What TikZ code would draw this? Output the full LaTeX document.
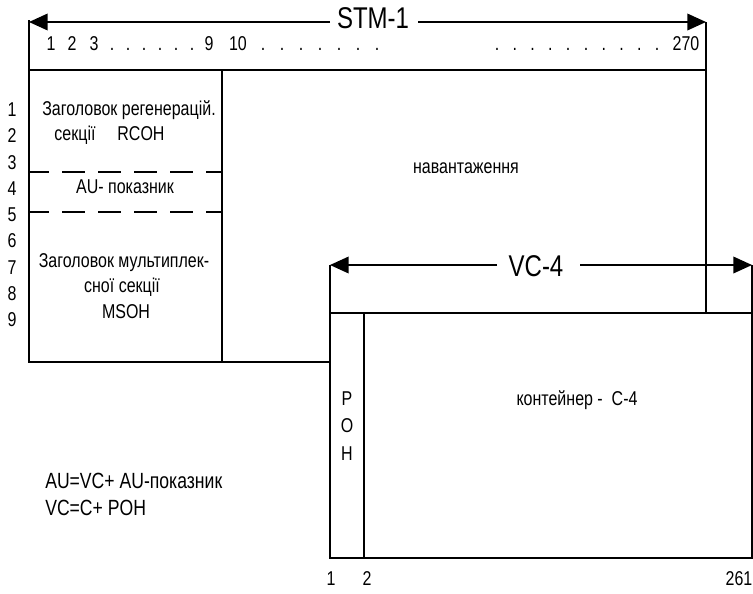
\documentclass[tikz,border=0pt]{standalone}
\usepackage{fontspec}
\setmainfont{Liberation Sans}[FakeStretch=0.8]
\usetikzlibrary{arrows.meta}
\begin{document}
\begin{tikzpicture}[x=0.75pt,y=-0.75pt,
  ln/.style={line width=1.1pt},
  tipr/.style={line width=1.1pt,-{Triangle[length=14pt,width=12.5pt]}},
  dsh/.style={line width=1.1pt,dash pattern=on 17pt off 10pt,dash phase=2pt},
  txt/.style={inner sep=0pt,anchor=base,font=\fontsize{15pt}{18pt}\selectfont},
  frm/.style={inner sep=0pt,anchor=base west,font=\fontsize{16.5pt}{19pt}\selectfont},
  big/.style={inner sep=0pt,anchor=base,font=\fontsize{22.5pt}{26pt}\selectfont}]
\useasboundingbox (0,0) rectangle (753,593);
% STM-1 frame
\draw[ln] (29,20) -- (29,362) -- (330,362);
\draw[ln] (29,70) -- (706,70);
\draw[ln] (706,22) -- (706,313);
\draw[ln] (222,70) -- (222,362);
\draw[dsh] (29,172) -- (222,172);
\draw[dsh] (29,212) -- (222,212);
% VC-4 frame
\draw[ln] (330,265) -- (330,558) -- (752,558) -- (752,265);
\draw[ln] (330,313) -- (752,313);
\draw[ln] (364,313) -- (364,558);
% STM-1 dimension
\coordinate (sL) at (29,22);
\coordinate (sR) at (706,22);
\coordinate (sg1) at (330,22);
\coordinate (sg2) at (418,22);
\node[big] (stm) at (373,28) {STM-1};
\draw[tipr] (sg1) -- (sL);
\draw[tipr] (sg2) -- (sR);
% VC-4 dimension
\coordinate (vL) at (330,265);
\coordinate (vR) at (752,265);
\coordinate (vg1) at (497,265);
\coordinate (vg2) at (580,265);
\node[big] (vc) at (536,276) {VC-4};
\draw[tipr] (vg1) -- (vL);
\draw[tipr] (vg2) -- (vR);
% column numbers top
\node[txt] (c1) at (51,50) {1};
\node[txt] (c2) at (72,50) {2};
\node[txt] (c3) at (94,50) {3};
\foreach \k in {0,...,5} \node[txt] (da\k) at ({112+16*\k},50) {.};
\node[txt] (c9) at (209,50) {9};
\node[txt] (c10) at (238,50) {10};
\foreach \k in {0,...,6} \node[txt] (db\k) at ({263+19*\k},50) {.};
\foreach \k in {0,...,9} \node[txt] (dc\k) at ({497+17.8*\k},50) {.};
\node[txt] (c270) at (686,50) {270};
% row numbers
\foreach \i in {1,...,9} \node[txt] (r\i) at (12,{116.7+26.25*(\i-1)}) {\i};
% left column
\node[txt] (rs1) at (129,115) {Заголовок регенерацій.};
\node[txt] (rs2) at (75,140) {секції};
\node[txt] (rs3) at (141,140) {RCOH};
\node[txt] (au) at (125,193) {AU- показник};
\node[txt] (ms1) at (124,267) {Заголовок мультиплек-};
\node[txt] (ms2) at (122,292) {сної секції};
\node[txt] (ms3) at (126,318) {MSOH};
\node[txt] (pay) at (466,173) {навантаження};
% VC-4 contents
\node[txt] (p1) at (347,405) {P};
\node[txt] (p2) at (347,432) {O};
\node[txt] (p3) at (347,460) {H};
\node[txt] (cont) at (577,405) {контейнер -\ \ С-4};
\node[txt] (b1) at (331,585) {1};
\node[txt] (b2) at (367,585) {2};
\node[txt] (b261) at (739,585) {261};
% formulas
\node[frm] (f1) at (45,488) {AU=VC+ AU-показник};
\node[frm] (f2) at (45,515) {VC=C+ POH};
\end{tikzpicture}
\end{document}
